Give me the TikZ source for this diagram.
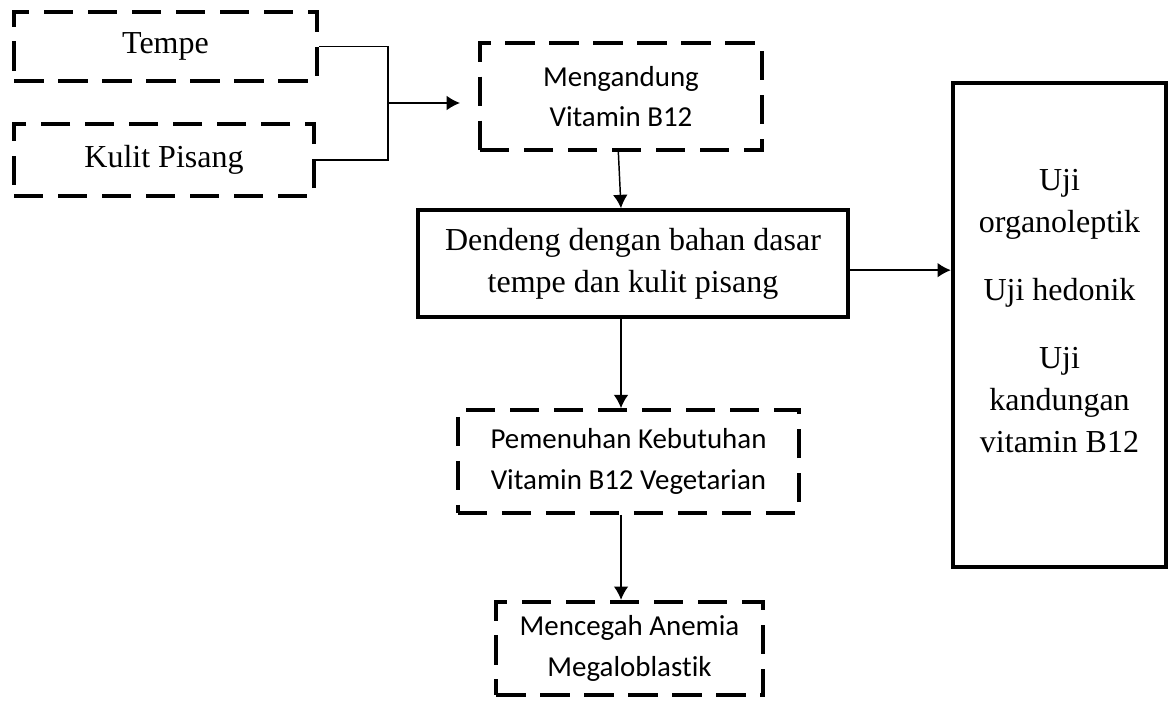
\documentclass[tikz,border=0pt]{standalone}
\usepackage{fontspec}
\setmainfont{Liberation Serif}
\newfontfamily\calfont[Ligatures=NoCommon]{Carlito}
\usetikzlibrary{arrows.meta}

\tikzset{
  dashbox/.style={draw, line width=3pt, dash pattern=on 22pt off 11pt, inner sep=0pt, align=center,
    font=\calfont\fontsize{21.7}{30.5}\selectfont},
  solidbox/.style={draw, line width=3pt, inner sep=0pt, align=center,
    font=\fontsize{24}{31.5}\selectfont},
  serifdash/.style={dashbox, font=\fontsize{24}{31.5}\selectfont},
  link/.style={line width=1.1pt},
  arrow/.style={link, -{Latex[length=10pt,width=11pt]}}
}

\begin{document}
\begin{tikzpicture}[x=0.75pt, y=-0.75pt]
\useasboundingbox (0,0) rectangle (1173,700);

% Define nodes
\node[serifdash, minimum width=227pt, minimum height=52pt] (tempe) at (165.5,46.5) {Tempe};
\node[serifdash, minimum width=225pt, minimum height=54pt] (kulit) at (164,160) {Kulit Pisang};
\node[dashbox, minimum width=211.5pt, minimum height=80pt] (kandungan) at (621,96.5) {Mengandung\\Vitamin B12};
\node[solidbox, minimum width=322.5pt, minimum height=80pt] (dendeng) at (633,263.5) {Dendeng dengan bahan dasar\\tempe dan kulit pisang};
\node[solidbox, minimum width=160pt, minimum height=363pt] (uji) at (1059.5,325)
  {Uji\\organoleptik\\[19.5pt]Uji hedonik\\[19.5pt]Uji\\kandungan\\vitamin B12\\[-10pt]\mbox{}};
\node[dashbox, minimum width=256pt, minimum height=77pt] (pemenuhan) at (628.5,461.5) {Pemenuhan Kebutuhan\\Vitamin B12 Vegetarian};
\node[dashbox, minimum width=200pt, minimum height=70pt] (cegah) at (629.5,648.5) {Mencegah Anemia\\Megaloblastik};

\coordinate (join) at (388,103);
\coordinate (tip) at (460,103);

% Draw connectors
\draw[link] (tempe.east) -| (join);
\draw[link] (kulit.east) -| (join);
\draw[arrow] (join) -- (tip);
\draw[arrow] ([xshift=-2pt]kandungan.south) -- ([xshift=-9pt]dendeng.north);
\draw[arrow] ([yshift=-5pt]dendeng.east) -- ([yshift=-5pt]dendeng.east -| uji.west);
\draw[arrow] ([xshift=-9pt]dendeng.south) -- ([xshift=-9pt]dendeng.south |- pemenuhan.north);
\draw[arrow] ([xshift=-5.6pt]pemenuhan.south) -- ([xshift=-5.6pt]pemenuhan.south |- cegah.north);
\end{tikzpicture}
\end{document}
